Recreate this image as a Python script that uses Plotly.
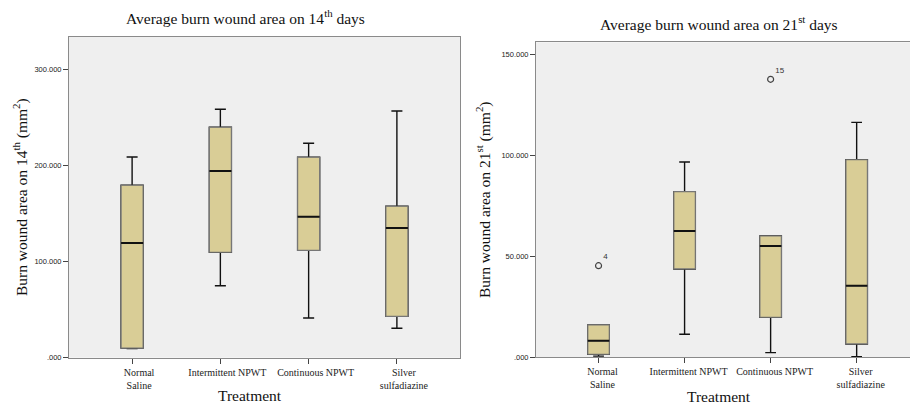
import plotly.graph_objects as go

W, H = 910, 404

categories = ["Normal Saline", "Intermittent NPWT", "Continuous NPWT", "Silver sulfadiazine"]
tick_labels = ["Normal<br>Saline", "Intermittent NPWT", "Continuous NPWT", "Silver<br>sulfadiazine"]

# Day 14 box statistics (mm^2)
d14_lower = [9.5, 74.8, 41.3, 30.6]
d14_q1 = [10.0, 109.6, 111.6, 43.0]
d14_median = [119.2, 194.0, 146.6, 134.8]
d14_q3 = [179.2, 239.5, 208.3, 157.4]
d14_upper = [208.6, 258.2, 222.9, 256.4]

# Day 21 box statistics (mm^2)
d21_lower = [0.6, 11.4, 2.3, 0.3]
d21_q1 = [1.5, 43.7, 19.8, 6.6]
d21_median = [8.2, 62.5, 55.0, 35.4]
d21_q3 = [16.0, 81.9, 60.0, 97.7]
d21_upper = [16.0, 96.6, 60.0, 116.2]

# Day 21 outliers
d21_outlier_cat = ["Normal Saline", "Continuous NPWT"]
d21_outlier_val = [45.3, 137.5]
d21_outlier_id = ["4", "15"]

y14_tickvals = [0, 100, 200, 300]
y14_ticktext = [".000", "100.000", "200.000", "300.000"]
y21_tickvals = [0, 50, 100, 150]
y21_ticktext = [".000", "50.000", "100.000", "150.000"]

BOX_W = 0.25
BOX_FILL = "#D9CD96"
LINE = "#111111"
OUTLINE = "#777777"
FRAME = "#8a8a8a"
SERIF = "Liberation Serif, Times New Roman, serif"
SANS = "Liberation Sans, Arial, sans-serif"

fig = go.Figure()


def add_boxes(q1, med, q3, lo, hi, xa, ya):
    # whiskers + caps (black)
    fig.add_trace(go.Box(
        x=categories, q1=q1, median=med, q3=q3, lowerfence=lo, upperfence=hi,
        fillcolor=BOX_FILL, line=dict(color=LINE, width=1.4),
        width=BOX_W, whiskerwidth=0.5, boxpoints=False,
        xaxis=xa, yaxis=ya, showlegend=False, hoverinfo="skip"))
    # box body with gray outline
    fig.add_trace(go.Box(
        x=categories, q1=q1, median=med, q3=q3, lowerfence=q1, upperfence=q3,
        fillcolor=BOX_FILL, line=dict(color=OUTLINE, width=1.2),
        width=BOX_W, whiskerwidth=0, boxpoints=False,
        xaxis=xa, yaxis=ya, showlegend=False, hoverinfo="skip"))
    # black median lines
    for i, m in enumerate(med):
        fig.add_shape(type="line", xref=xa, yref=ya,
                      x0=i - BOX_W / 2, x1=i + BOX_W / 2, y0=m, y1=m,
                      line=dict(color=LINE, width=2))


add_boxes(d14_q1, d14_median, d14_q3, d14_lower, d14_upper, "x", "y")
add_boxes(d21_q1, d21_median, d21_q3, d21_lower, d21_upper, "x2", "y2")

fig.add_trace(go.Scatter(
    x=d21_outlier_cat, y=d21_outlier_val, mode="markers+text",
    text=d21_outlier_id, textposition="top right",
    textfont=dict(family=SANS, size=8, color="#333"),
    marker=dict(symbol="circle-open", size=6, color="#444", line=dict(width=1.2)),
    xaxis="x2", yaxis="y2", showlegend=False, hoverinfo="skip"))


def xaxis_cfg(domain, rng, shift):
    return dict(
        domain=domain, type="category", categoryorder="array", categoryarray=categories,
        tickvals=categories, ticktext=tick_labels, range=rng,
        showline=True, linecolor=FRAME, linewidth=1, mirror=True,
        ticks="outside", ticklen=5, tickcolor="#444", tickwidth=1,
        showgrid=False, zeroline=False, ticklabelshift=shift,
        tickfont=dict(family=SERIF, size=10, color="#222"), tickangle=0)


def yaxis_cfg(domain, rng, tv, tt, anchor):
    return dict(
        domain=domain, range=rng, tickvals=tv, ticktext=tt, anchor=anchor,
        showline=True, linecolor=FRAME, linewidth=1, mirror=True,
        ticks="outside", ticklen=5, tickcolor="#444", tickwidth=1,
        showgrid=False, zeroline=False,
        tickfont=dict(family=SANS, size=7.5, color="#222"))


fig.update_layout(
    width=W, height=H,
    margin=dict(l=0, r=0, t=0, b=0, autoexpand=False),
    paper_bgcolor="white", plot_bgcolor="#EFEFEF",
    xaxis=xaxis_cfg([69 / W, 460 / W], [-0.715, 3.715], 7),
    yaxis=yaxis_cfg([1 - 357.7 / H, 1 - 37 / H], [0, 333.3], y14_tickvals, y14_ticktext, "x"),
    xaxis2=dict(xaxis_cfg([536 / W, 1.0], [-0.727, 3.62], 4), anchor="y2"),
    yaxis2=yaxis_cfg([1 - 357.3 / H, 1 - 42.3 / H], [0, 155.8], y21_tickvals, y21_ticktext, "x2"),
    annotations=[
        dict(text="Average burn wound area on 14<sup>th</sup> days", x=246 / W, y=1 - 17 / H,
             xref="paper", yref="paper", showarrow=False, xanchor="center", yanchor="middle",
             font=dict(family=SERIF, size=15.5, color="#111")),
        dict(text="Average burn wound area on 21<sup>st</sup> days", x=719 / W, y=1 - 22.7 / H,
             xref="paper", yref="paper", showarrow=False, xanchor="center", yanchor="middle",
             font=dict(family=SERIF, size=15.5, color="#111")),
        dict(text="Burn wound area on 14<sup>th</sup> (mm<sup>2</sup>)", x=20 / W, y=1 - 197 / H,
             xref="paper", yref="paper", showarrow=False, xanchor="center", yanchor="middle",
             textangle=-90, font=dict(family=SERIF, size=15.5, color="#111")),
        dict(text="Burn wound area on 21<sup>st</sup> (mm<sup>2</sup>)", x=483 / W, y=1 - 200 / H,
             xref="paper", yref="paper", showarrow=False, xanchor="center", yanchor="middle",
             textangle=-90, font=dict(family=SERIF, size=15.5, color="#111")),
        dict(text="Treatment", x=250 / W, y=1 - 395 / H,
             xref="paper", yref="paper", showarrow=False, xanchor="center", yanchor="middle",
             font=dict(family=SERIF, size=15.5, color="#111")),
        dict(text="Treatment", x=719 / W, y=1 - 396 / H,
             xref="paper", yref="paper", showarrow=False, xanchor="center", yanchor="middle",
             font=dict(family=SERIF, size=15.5, color="#111")),
    ],
)

fig.write_html("out.html", config={"displayModeBar": False},
               post_script="document.body.style.margin='0';document.body.style.overflow='hidden';")
